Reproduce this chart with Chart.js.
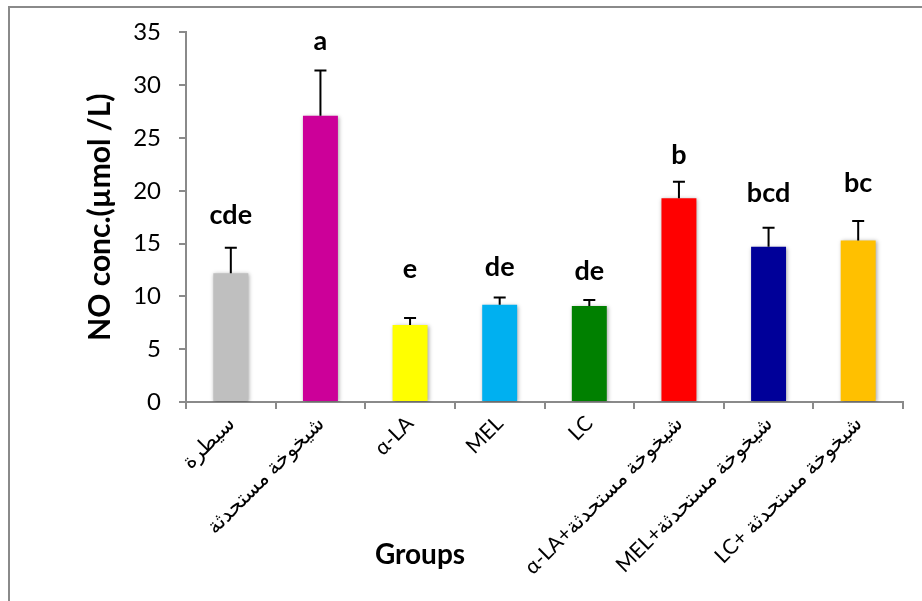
<!DOCTYPE html>
<html>
<head>
<meta charset="utf-8">
<script src="https://cdn.jsdelivr.net/npm/chart.js@4"></script>
<style>
  body { margin: 0; background: #fff; }
  #wrap { position: relative; width: 922px; height: 601px; overflow: hidden; }
  #frame { position: absolute; left: 8px; top: 6px; width: 960px; height: 640px;
           border-left: 2px solid #8a8a8a; border-top: 2px solid #8a8a8a; pointer-events: none; }
  canvas { position: absolute; left: 0; top: 0; }
</style>
</head>
<body>
<div id="wrap">
  <canvas id="noChart" width="922" height="601"></canvas>
  <div id="frame"></div>
</div>
<script>
/* Data Value */
const groups = [
  "سيطرة",
  "شيخوخة مستحدثة",
  "α-LA",
  "MEL",
  "LC",
  "α-LA+شيخوخة مستحدثة",
  "MEL+شيخوخة مستحدثة",
  "LC+ شيخوخة مستحدثة",
];
const meanNO = [12.2, 27.1, 7.3, 9.2, 9.1, 19.3, 14.7, 15.3];
const sdNO = [2.4, 4.3, 0.65, 0.7, 0.55, 1.55, 1.8, 1.85];
const letters = ["cde", "a", "e", "de", "de", "b", "bcd", "bc"];
const letterAt = [17.7, 34.2, 12.6, 12.8, 12.4, 23.4, 19.8, 20.7];
const barColors = ["#BFBFBF", "#CC0099", "#FFFF00", "#00B0F0", "#008000", "#FF0000", "#000099", "#FFC000"];

const FONT = "Lato, 'Open Sans', 'DejaVu Sans', sans-serif";

/* bar shadow */
const shadowPlugin = {
  id: "shadow",
  beforeDatasetDraw(chart) {
    const { ctx } = chart;
    ctx.save();
    ctx.shadowColor = "rgba(0,0,0,0.35)";
    ctx.shadowBlur = 4;
    ctx.shadowOffsetX = 1;
    ctx.shadowOffsetY = 1;
  },
  afterDatasetDraw(chart) {
    chart.ctx.restore();
  },
};

/* error bars + letters */
const errorPlugin = {
  id: "errorBars",
  afterDatasetsDraw(chart) {
    const { ctx } = chart;
    const y = chart.scales.y;
    const bars = chart.getDatasetMeta(0).data;
    ctx.save();
    ctx.strokeStyle = "#000";
    ctx.lineWidth = 2;
    bars.forEach((bar, i) => {
      const top = y.getPixelForValue(meanNO[i] + sdNO[i]);
      ctx.beginPath();
      ctx.moveTo(bar.x, bar.y);
      ctx.lineTo(bar.x, top);
      ctx.moveTo(bar.x - 6, top);
      ctx.lineTo(bar.x + 6, top);
      ctx.stroke();
    });
    ctx.fillStyle = "#000";
    ctx.font = "bold 27px " + FONT;
    ctx.textAlign = "center";
    ctx.textBaseline = "middle";
    bars.forEach((bar, i) => {
      ctx.fillText(letters[i], bar.x, y.getPixelForValue(letterAt[i]));
    });
    ctx.font = "bold 28px " + FONT;
    ctx.fillText("Groups", 420, 555);
    ctx.restore();
  },
};

const noChart = new Chart(document.getElementById("noChart"), {
  type: "bar",
  data: {
    labels: groups,
    datasets: [
      {
        data: meanNO,
        backgroundColor: barColors,
        borderWidth: 0,
        categoryPercentage: 1,
        barPercentage: 0.39,
      },
    ],
  },
  options: {
    responsive: false,
    animation: false,
    devicePixelRatio: 1,
    layout: { padding: { left: 0, right: 19, top: 32, bottom: 0 } },
    plugins: {
      legend: { display: false },
      tooltip: { enabled: false },
    },
    scales: {
      x: {
        offset: true,
        grid: {
          offset: true,
          drawOnChartArea: false,
          tickLength: 7,
          color: "#8a8a8a",
          lineWidth: 2,
        },
        border: { color: "#8a8a8a", width: 2 },
        ticks: {
          color: "#000",
          font: { size: 21, family: FONT },
          minRotation: 45,
          maxRotation: 45,
          autoSkip: false,
          padding: 2,
        },
        afterFit: (scale) => {
          scale.height = 199;
        },
      },
      y: {
        min: 0,
        max: 35,
        ticks: {
          stepSize: 5,
          color: "#000",
          font: { size: 24, family: FONT },
          padding: 18,
        },
        grid: {
          drawOnChartArea: false,
          tickLength: 7,
          color: "#8a8a8a",
          lineWidth: 2,
        },
        border: { color: "#8a8a8a", width: 2 },
        title: {
          display: true,
          text: "NO conc.(µmol /L)",
          color: "#000",
          font: { size: 30, weight: "bold", family: FONT },
          padding: { top: 82, bottom: 0 },
        },
        afterFit: (scale) => {
          scale.width = 186;
        },
      },
    },
  },
  plugins: [shadowPlugin, errorPlugin],
});
</script>
</body>
</html>
